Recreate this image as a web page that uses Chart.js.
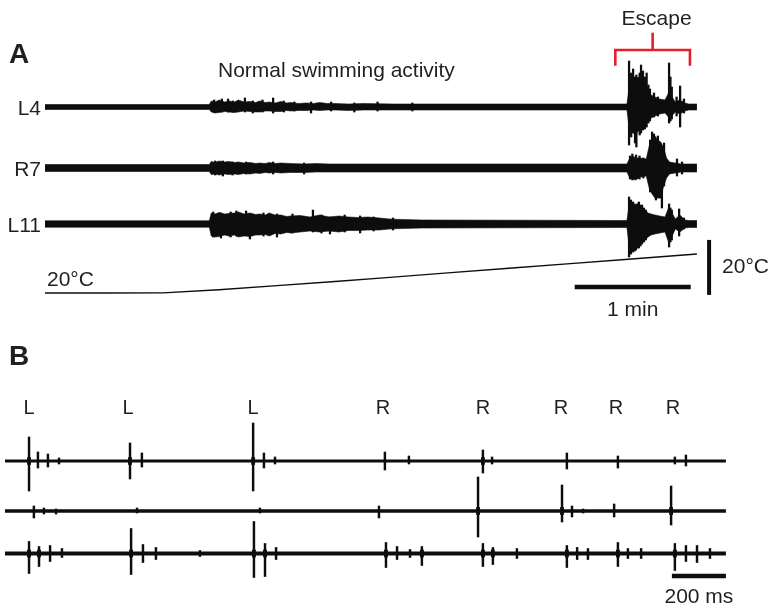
<!DOCTYPE html>
<html>
<head>
<meta charset="utf-8">
<title>Swimming and escape recordings</title>
<script src="https://cdn.jsdelivr.net/npm/chart.js@4.4.0/dist/chart.umd.min.js"></script>
<style>
  html, body { margin: 0; padding: 0; background: #fff; }
  #wrap { position: relative; width: 768px; height: 609px; }
</style>
</head>
<body>
<div id="wrap"><canvas id="fig" width="768" height="609"></canvas></div>
<script>
// ---------- Panel A: temperature ramp (time in s, amplitude in a.u.) ----------
const tracesA = ['L4', 'R7', 'L11'];

// recording envelope: [time, upper, lower]
const envL4 = [
  [0, 2.5, 2.5], [85, 2.5, 2.5], [86, 6, 5], [88, 5, 6], [90, 7, 5.5], [93, 5, 4.5], [95, 6, 5],
  [98, 5, 5.5], [100, 7, 5], [103, 5, 4], [106, 5.5, 4.5], [109, 4.5, 5], [111, 6, 5],
  [114, 4.5, 4], [116, 5, 4], [119, 4, 4.5], [122, 5.5, 4.5], [125, 4, 3.5], [127, 4.5, 4],
  [131, 3.5, 3.5], [135, 4, 3.5], [139, 3.5, 3], [142, 4.5, 3.5], [146, 3.5, 3], [150, 3.5, 3],
  [157, 3, 3.5], [165, 3.5, 3], [180, 3, 3], [301, 3, 3],
  [302.5, 24, 26], [304, 30, 24], [305.5, 28, 30], [307, 30, 22], [308.5, 26, 24],
  [310.3, 22, 18], [312, 16, 14], [313.5, 12, 11], [315.5, 10, 9], [318, 8, 7],
  [320.7, 7, 6], [322.5, 14, 10], [323.8, 12, 10], [326, 5, 5],
  [328.4, 7, 7], [331, 4, 4], [333, 3, 3], [337.2, 3, 3]
];
const envR7 = [
  [0, 3.5, 3.5], [85, 3.5, 3.5], [86, 6.5, 6.5], [88, 5.5, 6], [90, 7, 7], [93, 6, 6],
  [95, 6.5, 6.5], [98, 5.5, 6], [100, 6, 6.5], [103, 5, 5.5], [106, 5.5, 6], [109, 4.5, 5],
  [111, 5, 5.5], [114, 4.5, 4.5], [116, 5.5, 5], [119, 4.5, 4.5], [122, 5, 5], [127, 4.5, 4.5],
  [134, 4, 4.5], [140, 4.5, 4], [147, 4, 4], [155, 4, 4], [301, 4, 4],
  [302.5, 10, 10], [304, 12, 11], [305.5, 10, 12], [308, 10, 9], [311, 9, 8],
  [312.5, 22, 20], [314, 30, 26], [315.5, 32, 30], [317, 28, 30], [318.5, 26, 30],
  [320, 20, 18], [321.5, 10, 10], [323, 6, 6], [326, 5, 5], [329, 4, 4], [337.2, 4, 4]
];
const envL11 = [
  [0, 3.2, 3.2], [85, 3.2, 3.2], [86, 11, 12], [88, 10, 13], [90, 11.5, 12.5], [93, 10, 11],
  [95, 10.5, 12], [98, 11, 11], [100, 12, 13], [103, 10, 12], [106, 11, 12.5], [109, 9.5, 11],
  [111, 10, 11], [114, 9, 10.5], [116, 11, 12], [119, 9, 9.5], [122, 9, 10], [125, 7.5, 8.5],
  [127, 8, 9], [132, 8.5, 8], [137, 7, 7], [142, 9, 8], [147, 7, 7], [152, 8, 8],
  [157, 7, 6.5], [162, 6.5, 6.5], [167, 7, 6], [173, 6, 6], [178, 5, 5], [185, 4.5, 4.5],
  [195, 4, 4], [301, 3.5, 3.5],
  [302.5, 24, 28], [304, 20, 26], [305.5, 19, 25], [307, 21, 22], [308.5, 18, 20],
  [310.3, 14, 16], [312, 11, 13], [313.5, 10, 11], [315.5, 9, 10], [318, 8, 9],
  [320.7, 7, 8], [322.5, 16, 18], [323.8, 13, 15], [326, 5, 5],
  [328.4, 9, 8], [331, 4, 4], [333, 3.5, 3.5], [337.2, 3.5, 3.5]
];

// single large deflections: [time, up, down]
const spikesL4 = [
  [87.5, 7, 5], [91.5, 8, 5], [94.7, 8, 5], [97.2, 6, 5], [103.4, 9, 5], [107.5, 6, 6],
  [112.5, 7, 5], [118, 9, 6], [123.5, 6, 5], [129, 5, 4], [137.6, 5, 6], [148, 5, 4],
  [160, 4, 5], [172, 5, 4], [190, 4, 4],
  [302.1, 46, 38], [303.2, 34, 30], [304.2, 38, 26], [305.2, 30, 36], [305.9, 32, 40],
  [306.8, 28, 24], [307.6, 34, 28], [308.3, 42, 26], [309.3, 36, 23], [310.3, 30, 22],
  [311.2, 34, 20], [312.1, 22, 16], [312.9, 18, 14], [315, 14, 10], [317, 10, 9],
  [322.8, 44, 16], [323.5, 30, 14], [324.2, 20, 12], [326.7, 10, 9], [328.5, 21, 20], [330.5, 8, 6]
];
const spikesR7 = [
  [88, 7, 7], [92, 7, 8], [97, 6, 7], [104, 6, 6], [118, 6, 6], [134, 5, 6],
  [302.6, 12, 11], [303.8, 14, 12], [305.7, 13, 10], [307.5, 12, 11], [309.5, 10, 10],
  [313, 28, 24], [314, 36, 22], [315, 34, 26], [316, 28, 32], [317, 32, 24], [318, 22, 30],
  [319.1, 20, 40], [320.2, 25, 18], [326.9, 9, 8], [329.5, 6, 6]
];
const spikesL11 = [
  [87, 12, 13], [91, 11, 14], [96, 12, 13], [99, 13, 12], [104, 13, 10], [106, 10, 15],
  [113, 11, 12], [120, 10, 13], [128, 10, 9], [138.6, 14, 8], [143, 9, 9], [147.4, 7, 10],
  [155, 9, 8], [163, 8, 9], [170, 7, 7], [180, 6, 6],
  [302.1, 27, 33], [303.1, 24, 30], [304.2, 22, 28], [305, 20, 27], [305.7, 18, 26],
  [306.5, 20, 24], [307.2, 22, 24], [308, 18, 22], [308.8, 19, 20], [309.8, 16, 18],
  [310.8, 14, 16], [322.8, 20, 23], [323.5, 16, 18], [324.2, 14, 16], [328, 15, 12], [330.5, 6, 5]
];

const tempTime = [0, 30, 61, 90, 120, 150, 175, 210, 240, 270, 300, 337.2];
const tempDeg  = [20, 20, 20.05, 21.2, 22.7, 24.2, 25.5, 27.4, 29.0, 30.6, 32.2, 34.2];

const escapeWindow = [295, 333.6];   // s
const minuteBar = [274, 334];        // 1 min
const tempBar = [19.3, 39.3];        // 20 degC

// ---------- Panel B: swimming episode (time in ms) ----------
const sideLabels = ['L', 'L', 'L', 'R', 'R', 'R', 'R', 'R'];
const sideTimes = [89, 456, 919, 1400, 1770, 2059, 2263, 2474];

const spikesB1 = [
  [89, 24, 30], [122, 9, 7], [159, 7, 6], [200, 3, 3], [463, 18, 18], [507, 8, 6],
  [919, 38, 30], [959, 8, 7], [1000, 4, 3], [1407, 9, 9], [1496, 5, 3], [1770, 11, 12],
  [1804, 4, 3], [2081, 8, 8], [2270, 5, 7], [2481, 4, 3], [2522, 6, 5]
];
const spikesB2 = [
  [107, 5, 7], [144, 3, 3], [189, 2, 3], [489, 3, 2], [944, 3, 2], [1385, 5, 7],
  [1752, 34, 26], [2063, 26, 11], [2100, 5, 6], [2141, 2, 2], [2256, 7, 6], [2467, 25, 14]
];
const spikesB3 = [
  [89, 12, 20], [126, 7, 13], [167, 8, 8], [211, 5, 4], [467, 25, 21], [511, 9, 9],
  [559, 6, 6], [722, 3, 3], [922, 32, 24], [963, 10, 23], [1004, 6, 6], [1411, 11, 14],
  [1452, 7, 6], [1500, 4, 4], [1544, 7, 12], [1770, 10, 13], [1807, 6, 11], [1896, 5, 5],
  [2081, 8, 14], [2119, 6, 6], [2159, 5, 6], [2270, 11, 13], [2307, 5, 5], [2356, 5, 5],
  [2481, 10, 17], [2522, 8, 8], [2563, 8, 9], [2611, 5, 5]
];
const traceEndB = 2670;
const msBar = [2470, 2670];          // 200 ms

// ---------- layout ----------
const INK = '#0d0d0d';
const TEXT = '#231f20';
const RED = '#e3202a';
const FONT = '"Liberation Sans", Arial, Helvetica, sans-serif';

const offsetsA = [0, -61, -117];
const offsetsB = [0, -50, -92.5];
const widthsB = [3.0, 3.4, 4.2];
const bracketY = { leg: 41.3, top: 57, stem: 74.3 };
const minuteBarY = -180;
const tempBarT = 343.5;
const msBarY = -115;

const datasets = [];

function line(xID, yID, pts, color, width) {
  datasets.push({
    type: 'line', xAxisID: xID, yAxisID: yID, data: pts,
    borderColor: color, borderWidth: width, pointRadius: 0,
    borderCapStyle: 'butt', borderJoinStyle: 'miter', fill: false, tension: 0
  });
}

function envelope(env, off) {
  line('xA', 'yA', env.map(p => ({ x: p[0], y: off + p[1] })), INK, 0.6);
  line('xA', 'yA', env.map(p => ({ x: p[0], y: off - p[2] })), INK, 0.6);
  const last = datasets[datasets.length - 1];
  last.fill = '-1';
  last.backgroundColor = INK;
}

function spikes(list, off, xID, yID, thickness) {
  datasets.push({
    type: 'bar', xAxisID: xID, yAxisID: yID,
    data: list.map(s => ({ x: s[0], y: [off - s[2], off + s[1]] })),
    backgroundColor: INK, borderWidth: 0, borderSkipped: false,
    barThickness: thickness, grouped: false
  });
}

// panel A
[envL4, envR7, envL11].forEach((env, i) => envelope(env, offsetsA[i]));
[spikesL4, spikesR7, spikesL11].forEach((list, i) => spikes(list, offsetsA[i], 'xA', 'yA', 1.6));
line('xA', 'yTemp', tempTime.map((t, i) => ({ x: t, y: tempDeg[i] })), INK, 1.4);

const escMid = (escapeWindow[0] + escapeWindow[1]) / 2;
line('xA', 'yA', [
  { x: escapeWindow[0], y: bracketY.leg }, { x: escapeWindow[0], y: bracketY.top },
  { x: escapeWindow[1], y: bracketY.top }, { x: escapeWindow[1], y: bracketY.leg }
], RED, 2.6);
line('xA', 'yA', [{ x: escMid, y: bracketY.top }, { x: escMid, y: bracketY.stem }], RED, 2.6);

line('xA', 'yA', minuteBar.map(t => ({ x: t, y: minuteBarY })), INK, 4.5);
line('xA', 'yTemp', tempBar.map(v => ({ x: tempBarT, y: v })), INK, 4);

// panel B
offsetsB.forEach((off, i) => line('xB', 'yB', [{ x: 0, y: off }, { x: traceEndB, y: off }], INK, widthsB[i]));
[spikesB1, spikesB2, spikesB3].forEach((list, i) => {
  spikes(list, offsetsB[i], 'xB', 'yB', 1.8);
  const blobs = list.filter(s => s[1] >= 10 || s[2] >= 10)
    .map(s => [s[0], Math.min(s[1], 3.5), Math.min(s[2], 3.5)]);
  spikes(blobs, offsetsB[i], 'xB', 'yB', 3.2);
});
line('xB', 'yB', msBar.map(t => ({ x: t, y: msBarY })), INK, 4.7);

const textPlugin = {
  id: 'figureText',
  afterDraw(chart) {
    const { ctx } = chart;
    const s = chart.scales;
    ctx.save();
    ctx.fillStyle = TEXT;
    ctx.textBaseline = 'alphabetic';

    ctx.font = 'bold 28px ' + FONT;
    ctx.textAlign = 'left';
    ctx.fillText('A', 9, 63);
    ctx.fillText('B', 9, 365);

    ctx.font = '21px ' + FONT;
    ctx.fillText('Normal swimming activity', 218, 77);
    ctx.fillText('20°C', s.xA.getPixelForValue(0) + 2, s.yTemp.getPixelForValue(20) - 6.5);
    ctx.fillText('20°C', s.xA.getPixelForValue(tempBarT) + 13, 273);

    ctx.textAlign = 'right';
    tracesA.forEach((name, i) => {
      ctx.fillText(name, s.xA.getPixelForValue(0) - 4, s.yA.getPixelForValue(offsetsA[i]) + 7.5);
    });

    ctx.textAlign = 'center';
    ctx.fillText('Escape', s.xA.getPixelForValue(escMid) + 4, 25);
    ctx.fillText('1 min', s.xA.getPixelForValue((minuteBar[0] + minuteBar[1]) / 2), 316);
    ctx.fillText('200 ms', s.xB.getPixelForValue((msBar[0] + msBar[1]) / 2), 603);

    ctx.font = '20px ' + FONT;
    sideLabels.forEach((lab, i) => ctx.fillText(lab, s.xB.getPixelForValue(sideTimes[i]), 414));
    ctx.restore();
  }
};

new Chart(document.getElementById('fig'), {
  type: 'line',
  data: { datasets },
  options: {
    responsive: false,
    animation: false,
    events: [],
    layout: { padding: 0 },
    plugins: { legend: { display: false }, tooltip: { enabled: false } },
    scales: {
      xA:    { type: 'linear', axis: 'x', min: -23.276, max: 373.97, offset: false, display: false },
      yA:    { type: 'linear', axis: 'y', min: -502, max: 107, display: false },
      yTemp: { type: 'linear', axis: 'y', min: -94.909, max: 126.545, display: false },
      xB:    { type: 'linear', axis: 'x', min: -18.52, max: 2825.9, offset: false, display: false },
      yB:    { type: 'linear', axis: 'y', min: -148, max: 461, display: false }
    }
  },
  plugins: [textPlugin]
});
</script>
</body>
</html>
